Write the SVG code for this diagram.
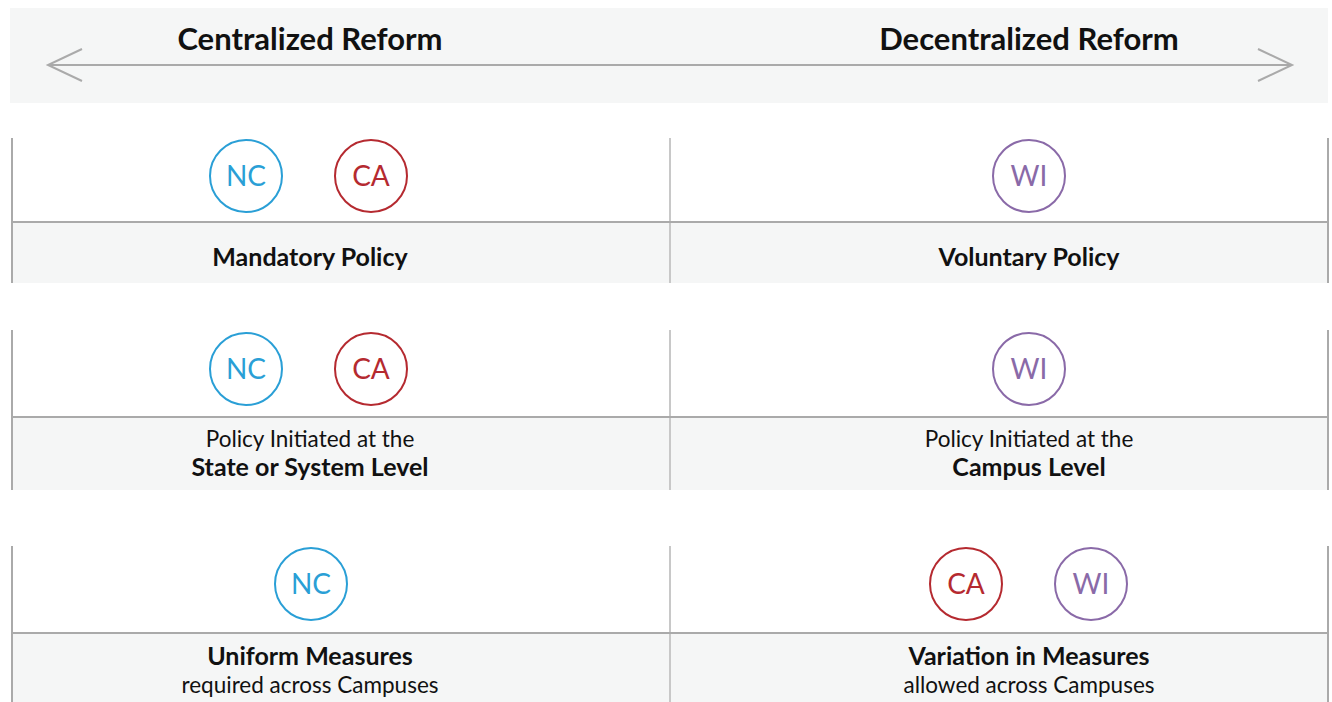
<svg xmlns="http://www.w3.org/2000/svg" width="1332" height="702" viewBox="0 0 1332 702">
<defs>
<style>
.band{fill:#f5f6f6}
.ln{stroke:#aaaaaa;stroke-width:2;fill:none}
.vl{stroke:#c8c8c8;stroke-width:2;fill:none}
.hd{font-family:Lato,"Liberation Sans",sans-serif;font-weight:700;font-size:31px;fill:#111;text-anchor:middle}
.lb{font-family:Lato,"Liberation Sans",sans-serif;font-size:22.5px;fill:#111;text-anchor:middle}
.b{font-weight:700;font-size:25px}
.st{font-family:Lato,"Liberation Sans",sans-serif;font-size:28px;text-anchor:middle}
.nc circle{fill:#fff;stroke:#2a9fd6;stroke-width:2}
.nc text{fill:#2a9fd6}
.ca circle{fill:#fff;stroke:#b52a30;stroke-width:2}
.ca text{fill:#b52a30}
.wi circle{fill:#fff;stroke:#8a6aa8;stroke-width:2}
.wi text{fill:#8a6aa8}
</style>
</defs>
<rect width="1332" height="702" fill="#fff"/>
<g id="banner">
<rect class="band" x="10" y="8" width="1318" height="95"/>
<text class="hd" x="310" y="50">Centralized Reform</text>
<text class="hd" x="1029" y="50">Decentralized Reform</text>
</g>
<g id="connectors">
<line class="ln" x1="48" y1="65" x2="1292" y2="65"/>
<polyline class="ln" points="82,49 48,65 82,81"/>
<polyline class="ln" points="1258,49 1292,65 1258,81"/>
</g>
<g id="row1">
<rect class="band" x="12" y="222" width="1316" height="61"/>
<line class="ln" x1="12" y1="138" x2="12" y2="283"/>
<line class="ln" x1="1328" y1="138" x2="1328" y2="283"/>
<line class="vl" x1="670" y1="138" x2="670" y2="283"/>
<line class="ln" x1="12" y1="222" x2="1328" y2="222"/>
<text class="lb b" x="310" y="266">Mandatory Policy</text>
<text class="lb b" x="1029" y="266">Voluntary Policy</text>
</g>
<g id="row2">
<rect class="band" x="12" y="417" width="1316" height="73"/>
<line class="ln" x1="12" y1="330" x2="12" y2="490"/>
<line class="ln" x1="1328" y1="330" x2="1328" y2="490"/>
<line class="vl" x1="670" y1="330" x2="670" y2="490"/>
<line class="ln" x1="12" y1="417" x2="1328" y2="417"/>
<text class="lb" x="310" y="447">Policy Initiated at the</text>
<text class="lb b" x="310" y="476">State or System Level</text>
<text class="lb" x="1029" y="447">Policy Initiated at the</text>
<text class="lb b" x="1029" y="476">Campus Level</text>
</g>
<g id="row3">
<rect class="band" x="12" y="633" width="1316" height="69"/>
<line class="ln" x1="12" y1="546" x2="12" y2="702"/>
<line class="ln" x1="1328" y1="546" x2="1328" y2="702"/>
<line class="vl" x1="670" y1="546" x2="670" y2="702"/>
<line class="ln" x1="12" y1="633" x2="1328" y2="633"/>
<text class="lb b" x="310" y="665">Uniform Measures</text>
<text class="lb" x="310" y="693">required across Campuses</text>
<text class="lb b" x="1029" y="665">Variation in Measures</text>
<text class="lb" x="1029" y="693">allowed across Campuses</text>
</g>
<g id="nc1" class="nc"><circle cx="246" cy="176" r="36"/><text class="st" x="246" y="186">NC</text></g>
<g id="ca1" class="ca"><circle cx="371" cy="176" r="36"/><text class="st" x="371" y="186">CA</text></g>
<g id="wi1" class="wi"><circle cx="1029" cy="176" r="36"/><text class="st" x="1029" y="186">WI</text></g>
<g id="nc2" class="nc"><circle cx="246" cy="369" r="36"/><text class="st" x="246" y="379">NC</text></g>
<g id="ca2" class="ca"><circle cx="371" cy="369" r="36"/><text class="st" x="371" y="379">CA</text></g>
<g id="wi2" class="wi"><circle cx="1029" cy="369" r="36"/><text class="st" x="1029" y="379">WI</text></g>
<g id="nc3" class="nc"><circle cx="311" cy="584" r="36"/><text class="st" x="311" y="594">NC</text></g>
<g id="ca3" class="ca"><circle cx="966" cy="584" r="36"/><text class="st" x="966" y="594">CA</text></g>
<g id="wi3" class="wi"><circle cx="1091" cy="584" r="36"/><text class="st" x="1091" y="594">WI</text></g>
</svg>
